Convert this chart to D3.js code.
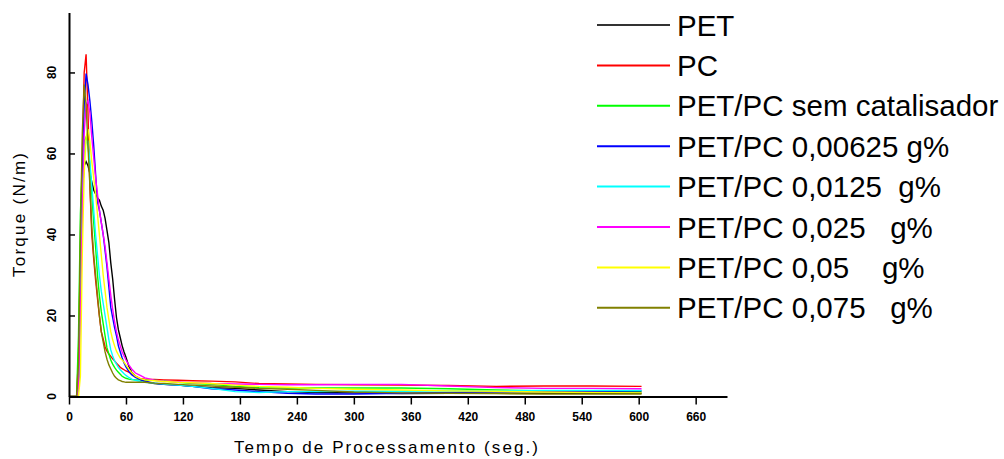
<!DOCTYPE html>
<html>
<head>
<meta charset="utf-8">
<script src="https://cdn.jsdelivr.net/npm/d3@7"></script>
<style>
  body { margin: 0; background: #fff; }
  svg { display: block; }
  text { font-family: "Liberation Sans", Arial, sans-serif; fill: #000; }
</style>
</head>
<body>
<div id="chart"></div>
<script>
// time axis (seconds) shared by all runs
const times = [0, 8, 10, 12, 14, 16, 18, 20, 22, 24, 26, 28, 30, 32, 34, 36, 38, 40, 42, 44,
  46, 48, 50, 52, 54, 56, 58, 60, 63, 66, 70, 75, 80, 90, 100, 115, 130, 150, 175, 200,
  230, 260, 300, 350, 400, 450, 500, 550, 603];

// torque (N/m)
const pet = [0, 0, 2, 30, 50, 57, 58, 57, 55, 53, 51, 50, 49, 48.5, 47, 46, 44, 41, 38, 33,
  29, 24, 19.5, 16.5, 14.5, 12.5, 11, 9.7, 7.5, 6, 5, 4.2, 3.6, 3.2, 3.0, 2.8, 2.5, 2.2, 2.0, 1.6,
  1.2, 1.0, 0.9, 0.7, 0.8, 0.8, 0.8, 0.8, 0.8];
const pc = [0, 0, 10, 35, 60, 80, 84.5, 70, 52, 40, 34, 28.8, 24.2, 19.9, 16, 14.2, 12.3, 11.2, 10.5, 9.9,
  9.3, 8.8, 8.2, 7.7, 7.2, 6.9, 6.6, 6.3, 6.0, 5.6, 5.0, 4.4, 4.3, 4.2, 4.1, 4.0, 3.9, 3.8, 3.6, 3.2,
  3.1, 3.0, 2.9, 2.8, 2.7, 2.5, 2.6, 2.6, 2.5];
const semCat = [0, 0, 15, 45, 58, 63, 64, 62, 57, 50, 43, 37, 30, 25, 21, 18, 15, 12, 10.5, 9,
  8, 7.2, 6.5, 6, 5.5, 5, 4.7, 4.5, 4.3, 4.2, 4.1, 4.1, 4.0, 4.0, 3.8, 3.5, 3.2, 3.0, 2.5, 2.2,
  2.1, 2.1, 2.1, 2.1, 1.9, 1.6, 1.4, 1.2, 1.2];
const cat00625 = [0, 0, 3, 30, 55, 72, 79.7, 77, 73, 68, 62, 55, 48, 46, 43, 40, 36, 32, 27, 22,
  19.5, 17, 15, 12.5, 11, 9.5, 8.3, 7.3, 6.2, 5.4, 4.7, 4.2, 3.8, 3.3, 3.0, 2.8, 2.5, 1.9, 1.6, 1.2,
  0.8, 0.6, 0.6, 0.8, 1.0, 1.2, 1.3, 1.3, 1.4];
const cat0125 = [0, 0, 2, 25, 48, 60, 63, 63, 58, 52, 46, 40, 35, 30, 26, 23, 20, 17, 14, 11.5,
  10, 8.8, 8, 7.2, 6.6, 6.1, 5.6, 5.2, 4.7, 4.3, 4.0, 3.7, 3.5, 3.3, 3.1, 2.8, 2.5, 2.0, 1.2, 1.0,
  1.2, 1.2, 1.3, 1.3, 1.4, 1.4, 1.5, 1.5, 1.5];
const cat025 = [0, 0, 2, 20, 45, 65, 72, 73, 70, 64, 59, 54, 50, 46, 43, 40, 37, 33, 29, 25,
  21.5, 18.5, 16, 14, 12.5, 11, 10, 9, 7.8, 6.8, 5.8, 5.2, 4.6, 4.0, 3.8, 3.6, 3.4, 3.2, 3.1, 3.0,
  2.9, 2.9, 3.0, 3.0, 2.6, 2.2, 2.0, 2.0, 1.9];
const cat05 = [0, 0, 0, 5, 35, 55, 64, 66, 63, 58, 54, 50, 45, 40, 35, 30, 26, 22, 19, 16,
  14, 12.5, 11.2, 10.3, 9.5, 9, 8.5, 7.8, 6.8, 5.9, 5.0, 4.4, 4.1, 3.9, 3.7, 3.5, 3.4, 3.2, 2.8, 2.5,
  2.3, 2.0, 1.8, 1.6, 1.4, 1.3, 1.1, 1.0, 0.9];
const cat075 = [0, 0, 8, 40, 65, 77, 72, 62, 52, 42, 35, 30, 25, 20, 16, 13.5, 11, 9.2, 7.8, 6.8,
  5.8, 5, 4.5, 4.1, 3.9, 3.7, 3.6, 3.5, 3.5, 3.5, 3.5, 3.5, 3.5, 3.3, 3.2, 3.0, 2.8, 2.6, 2.3, 2.0,
  1.8, 1.5, 1.1, 0.9, 0.8, 0.7, 0.6, 0.6, 0.6];

const seriesNames = ["PET", "PC", "PET/PC sem catalisador", "PET/PC 0,00625 g%",
  "PET/PC 0,0125  g%", "PET/PC 0,025   g%", "PET/PC 0,05    g%", "PET/PC 0,075   g%"];
const seriesValues = [pet, pc, semCat, cat00625, cat0125, cat025, cat05, cat075];
const seriesColors = ["#000000", "#ff0000", "#00ff00", "#0000ff", "#00ffff", "#ff00ff", "#ffff00", "#808000"];

const xMajor = d3.range(0, 661, 60);
const xMinor = d3.range(30, 691, 60);
const yMajor = [0, 20, 40, 60, 80];
const yMinor = [10, 30, 50, 70, 90];

const width = 1004;
const height = 459;

const svg = d3.select("#chart").append("svg")
    .attr("width", width)
    .attr("height", height);

const x = d3.scaleLinear().domain([0, 693]).range([69, 727]);
const y = d3.scaleLinear().domain([0, 94.8]).range([396.5, 12.5]);

// curves
const line = d3.line()
    .x(d => x(d[0]))
    .y(d => y(d[1]));

seriesValues.forEach((vals, i) => {
    svg.append("path")
        .datum(times.map((t, j) => [t, vals[j]]))
        .attr("fill", "none")
        .attr("stroke", seriesColors[i])
        .attr("stroke-width", 1.4)
        .attr("d", line);
});

// x axis
const gx = svg.append("g").attr("transform", `translate(0,${y(0)})`);
gx.call(d3.axisBottom(x).tickValues(xMinor).tickSize(4).tickSizeOuter(0).tickFormat(""));
gx.call(d3.axisBottom(x).tickValues(xMajor).tickSize(8).tickSizeOuter(0).tickPadding(8));
gx.selectAll(".domain").attr("stroke-width", 2);
gx.selectAll(".tick line").attr("stroke-width", 1.5);
gx.selectAll("text")
    .attr("font-size", 12)
    .attr("font-weight", "bold")
    .attr("font-family", "Liberation Sans, Arial, sans-serif");

// y axis, ticks pointing inward
const gy = svg.append("g").attr("transform", `translate(${x(0)},0)`);
gy.call(d3.axisLeft(y).tickValues(yMinor).tickSize(-3.5).tickSizeOuter(0).tickFormat(""));
gy.call(d3.axisLeft(y).tickValues(yMajor).tickSize(-6).tickSizeOuter(0).tickFormat(""));
gy.selectAll(".domain").attr("stroke-width", 2);
gy.selectAll(".tick line").attr("stroke-width", 1.5);

svg.append("g").selectAll("text")
    .data(yMajor)
    .join("text")
    .attr("transform", d => `translate(56,${y(d)}) rotate(-90)`)
    .attr("text-anchor", "middle")
    .attr("font-size", 12)
    .attr("font-weight", "bold")
    .text(d => d);

// axis titles
svg.append("text")
    .attr("x", 234)
    .attr("y", 453)
    .attr("font-size", 17)
    .attr("textLength", 304)
    .attr("lengthAdjust", "spacing")
    .text("Tempo de Processamento (seg.)");

svg.append("text")
    .attr("transform", "translate(25,277) rotate(-90)")
    .attr("font-size", 17)
    .attr("textLength", 124)
    .attr("lengthAdjust", "spacing")
    .text("Torque (N/m)");

// legend
const legend = svg.append("g");
seriesNames.forEach((name, i) => {
    const ly = 25 + i * 40.4;
    legend.append("line")
        .attr("x1", 597).attr("x2", 670)
        .attr("y1", ly).attr("y2", ly)
        .attr("stroke", i === 0 ? "#333" : seriesColors[i])
        .attr("stroke-width", 2);
    legend.append("text")
        .attr("x", 677)
        .attr("y", ly + 10.5)
        .attr("font-size", 29.5)
        .style("white-space", "pre")
        .text(name);
});
</script>
</body>
</html>
